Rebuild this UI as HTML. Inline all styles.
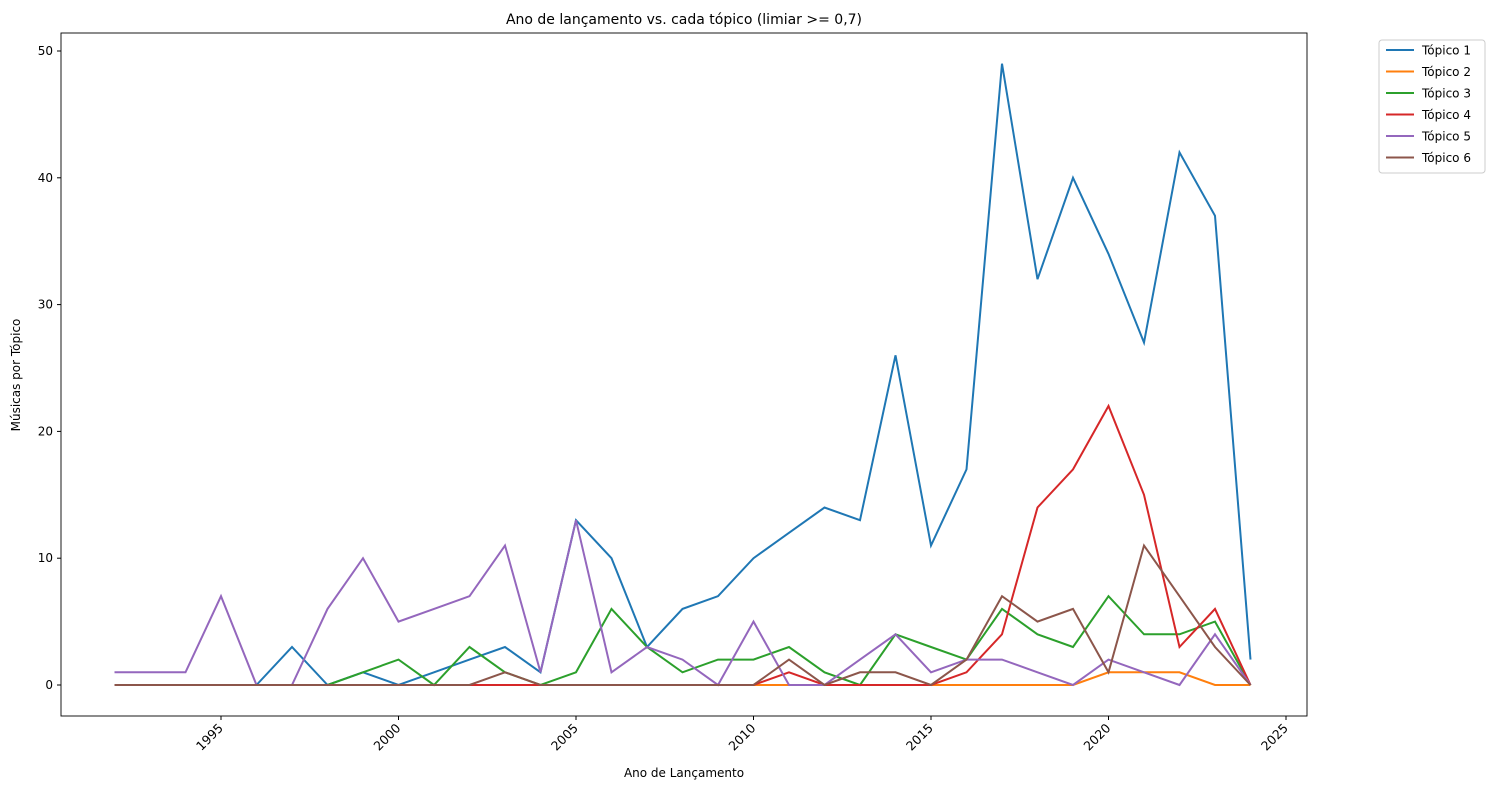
<!DOCTYPE html>
<html><head><meta charset="utf-8"><style>
body{margin:0;background:#fff;font-family:"Liberation Sans","DejaVu Sans",sans-serif}
svg text{font-family:"DejaVu Sans","Liberation Sans",sans-serif;fill:#000}
</style></head><body>
<svg id="chart" width="1494" height="790"></svg>
<script>
const years=[];for(let y=1992;y<=2024;y++)years.push(y);
const seriesNames=["Tópico 1","Tópico 2","Tópico 3","Tópico 4","Tópico 5","Tópico 6"];
const colors=["#1f77b4","#ff7f0e","#2ca02c","#d62728","#9467bd","#8c564b"];
const t1=[null,null,null,null,0,3,0,1,0,1,2,3,1,13,10,3,6,7,10,12,14,13,26,11,17,49,32,40,34,27,42,37,2];
const t2=[null,null,null,null,null,null,null,null,null,null,null,null,null,null,null,null,null,null,0,0,0,0,0,0,0,0,0,0,1,1,1,0,0];
const t3=[null,null,null,null,null,null,0,1,2,0,3,1,0,1,6,3,1,2,2,3,1,0,4,3,2,6,4,3,7,4,4,5,0];
const t4=[0,0,0,0,0,0,0,0,0,0,0,0,0,0,0,0,0,0,0,1,0,0,0,0,1,4,14,17,22,15,3,6,0];
const t5=[1,1,1,7,0,0,6,10,5,6,7,11,1,13,1,3,2,0,5,0,0,2,4,1,2,2,1,0,2,1,0,4,0];
const t6=[0,0,0,0,0,0,0,0,0,0,0,1,0,0,0,0,0,0,0,2,0,1,1,0,2,7,5,6,1,11,7,3,0];
const allSeries=[t1,t2,t3,t4,t5,t6];
const xTicks=[1995,2000,2005,2010,2015,2020,2025];
const yTicks=[0,10,20,30,40,50];
const L=61,R=1307,T=33,B=716;
const xs=y=>221+(y-1995)*35.5;
const ys=v=>685-v*12.68;
const svg=document.getElementById('chart');
const NS='http://www.w3.org/2000/svg';
function mk(tag,attrs,txt){const e=document.createElementNS(NS,tag);for(const k in attrs)e.setAttribute(k,attrs[k]);if(txt!=null)e.textContent=txt;svg.appendChild(e);return e;}
let el=mk('text',{x:684,y:24,'text-anchor':'middle','font-size':14},'Ano de lançamento vs. cada tópico (limiar >= 0,7)');


allSeries.forEach((s,i)=>{let d='';let pen=false;s.forEach((v,j)=>{if(v==null){pen=false;return;}d+=(pen?'L':'M')+xs(years[j]).toFixed(1)+','+ys(v).toFixed(1);pen=true;});
 const p=mk('path',{d:d,fill:'none',stroke:colors[i],'stroke-width':2,'stroke-linejoin':'miter'});
 
 });
el=mk('rect',{x:L,y:T,width:R-L,height:B-T,fill:'none',stroke:'#000','stroke-width':0.9});


xTicks.forEach(t=>{const x=xs(t);mk('line',{x1:x,x2:x,y1:B,y2:B+4,stroke:'#000'});
 const tx=mk('text',{x:x,y:B+14,'text-anchor':'end','font-size':12.5,transform:`rotate(-45 ${x} ${B+10})`},t);
 
 });
yTicks.forEach(t=>{const y=ys(t);mk('line',{x1:L-4,x2:L,y1:y,y2:y,stroke:'#000'});
 const tx=mk('text',{x:L-8,y:y+4,'text-anchor':'end','font-size':12},t);
 
 });
el=mk('text',{x:684,y:777,'text-anchor':'middle','font-size':12},'Ano de Lançamento');


el=mk('text',{x:20,y:375,'text-anchor':'middle','font-size':12,transform:'rotate(-90 20 375)'},'Músicas por Tópico');


el=mk('rect',{x:1379,y:40,width:106,height:133,fill:'#fff',stroke:'#ccc',rx:3});


seriesNames.forEach((n,i)=>{const y=50+i*21.5;
 const ln=mk('line',{x1:1386,x2:1414,y1:y,y2:y,stroke:colors[i],'stroke-width':2});
 
 
 const tx=mk('text',{x:1422,y:y+4.5,'font-size':12},n);
 
 });
</script>
</body></html>
